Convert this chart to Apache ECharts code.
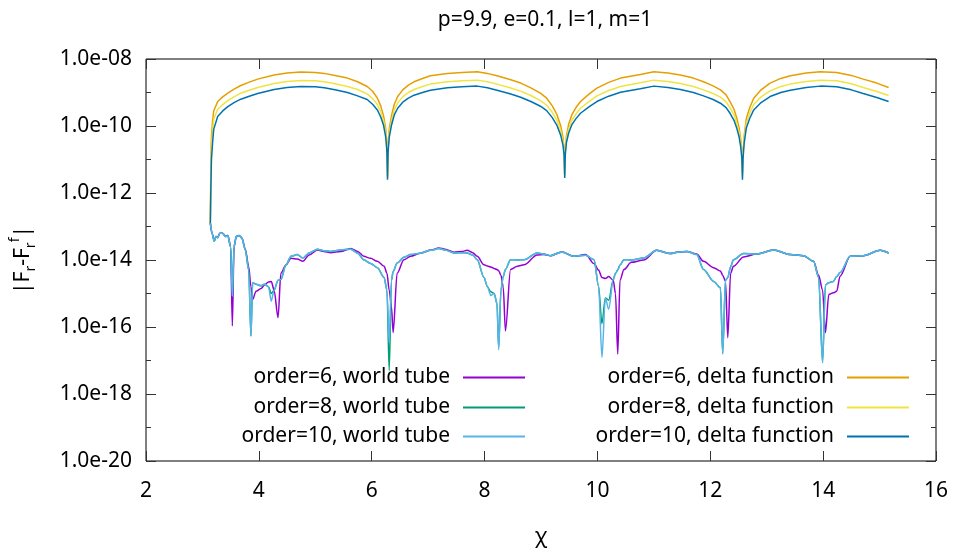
<!DOCTYPE html>
<html><head><meta charset="utf-8">
<script src="https://cdn.jsdelivr.net/npm/echarts@6/dist/echarts.min.js"></script>
<style>html,body{margin:0;padding:0;background:#fff}#c{width:953px;height:553px}</style>
</head><body><div id="c"></div>
<script>
const titleText = 'p=9.9, e=0.1, l=1, m=1';
const xAxisName = 'χ';
const yTickValues = [1e-20, 1e-18, 1e-16, 1e-14, 1e-12, 1e-10, 1e-8];
const yTickLabels = ['1.0e-20', '1.0e-18', '1.0e-16', '1.0e-14', '1.0e-12', '1.0e-10', '1.0e-08'];
const yMinorTickValues = [1e-20, 1e-19, 1e-18, 1e-17, 1e-16, 1e-15, 1e-14, 1e-13, 1e-12, 1e-11, 1e-10, 1e-9, 1e-8];
const seriesNames = ['order=6, world tube', 'order=8, world tube', 'order=10, world tube',
  'order=6, delta function', 'order=8, delta function', 'order=10, delta function'];

// world tube curves (chi, |F_r - F_r^f|)
const wtX = [3.14,3.17,3.21,3.24,3.27,3.31,3.36,3.41,3.45,3.50,
  3.53,3.56,3.60,3.65,3.70,3.76,3.82,3.86,3.89,3.95,
  4.04,4.10,4.17,4.22,4.27,4.34,4.39,4.48,4.57,4.68,
  4.78,4.89,5.04,5.15,5.27,5.45,5.63,5.75,5.86,5.98,
  6.10,6.22,6.27,6.31,6.35,6.38,6.45,6.57,6.69,6.86,
  7.04,7.19,7.30,7.46,7.60,7.69,7.79,7.87,7.99,8.05,
  8.11,8.17,8.22,8.25,8.29,8.33,8.37,8.46,8.58,8.70,
  8.93,9.05,9.17,9.37,9.58,9.79,9.94,10.02,10.08,10.14,
  10.20,10.28,10.32,10.36,10.40,10.47,10.60,10.82,11.05,11.29,
  11.44,11.59,11.76,11.88,12.06,12.18,12.22,12.27,12.31,12.36,
  12.41,12.59,12.82,13.12,13.42,13.65,13.83,13.92,13.99,14.04,
  14.10,14.18,14.24,14.30,14.48,14.71,15.01,15.16];
const wtOrder6 = [1.26e-13,6.3e-14,3.8e-14,5.0e-14,4.8e-14,6.3e-14,6.3e-14,5.2e-14,5.4e-14,2.5e-14,
  1.07e-16,2.5e-14,5.0e-14,5.4e-14,4.5e-14,2.1e-14,6.3e-15,1.6e-15,6.6e-16,1.17e-15,
  1.41e-15,1.8e-15,2.2e-15,2.3e-15,1.26e-15,1.9e-16,4.0e-15,7.1e-15,1.12e-14,1.07e-14,
  9.1e-15,1.41e-14,2.0e-14,1.8e-14,1.66e-14,1.8e-14,2.2e-14,1.8e-14,1.29e-14,1.12e-14,
  9.1e-15,6.5e-15,4.0e-15,1.26e-15,4.0e-16,6.8e-17,4.0e-15,1.02e-14,1.29e-14,1.6e-14,
  1.95e-14,2.3e-14,2.1e-14,1.7e-14,1.8e-14,1.95e-14,1.66e-14,1.29e-14,7.2e-15,6.6e-15,
  6.2e-15,5.6e-15,5.2e-15,4.8e-15,3.5e-15,1.6e-15,7.6e-17,5.2e-15,6.5e-15,7.2e-15,
  1.41e-14,1.45e-14,1.35e-14,1.74e-14,1.29e-14,1.45e-14,7.8e-15,5.0e-15,3.0e-15,2.8e-15,
  3.2e-15,2.5e-15,1.0e-15,1.55e-17,2.5e-15,5.2e-15,8.5e-15,1.0e-14,1.95e-14,1.55e-14,
  1.74e-14,1.8e-14,1.5e-14,9.1e-15,5.9e-15,4.7e-15,3.5e-15,2.3e-15,4.8e-17,4.0e-15,
  6.5e-15,1.23e-14,1.5e-14,2.0e-14,1.45e-14,1.35e-14,9.1e-15,3.5e-15,1.26e-15,6.8e-17,
  9.3e-16,1.05e-15,1.17e-15,3.3e-15,1.29e-14,1.35e-14,1.95e-14,1.62e-14];
const wtOrder8 = [1.26e-13,6.3e-14,3.6e-14,5.0e-14,4.6e-14,6.3e-14,6.2e-14,5.0e-14,5.4e-14,2.5e-14,
  8.3e-16,2.5e-14,5.0e-14,5.4e-14,4.5e-14,2.0e-14,5.0e-15,5.4e-17,2.1e-15,1.9e-15,
  1.7e-15,1.9e-15,1.6e-15,1.0e-15,1.26e-15,2.5e-15,2.6e-15,7.1e-15,1.29e-14,1.45e-14,
  1.15e-14,1.62e-14,2.1e-14,1.9e-14,1.8e-14,2.0e-14,2.1e-14,1.6e-14,1.02e-14,7.9e-15,
  5.9e-15,3.0e-15,1.26e-15,5.0e-18,2.5e-15,4.5e-15,8.1e-15,1.2e-14,1.45e-14,1.6e-14,
  1.95e-14,2.2e-14,2.0e-14,1.62e-14,1.66e-14,1.62e-14,1.41e-14,1.02e-14,3.0e-15,1.6e-15,
  1.12e-15,1.0e-15,5.0e-16,2.5e-17,1.26e-15,3.2e-15,5.2e-15,1.02e-14,1.0e-14,1.02e-14,
  1.62e-14,1.5e-14,1.35e-14,1.74e-14,1.29e-14,1.38e-14,1.02e-14,1.66e-15,1.26e-16,7.4e-16,
  6.3e-16,2.6e-15,4.0e-15,5.0e-15,7.1e-15,1.02e-14,1.0e-14,1.15e-14,1.95e-14,1.55e-14,
  1.74e-14,1.8e-14,1.45e-14,5.2e-15,2.3e-15,1.48e-15,1.6e-17,2.5e-15,3.0e-15,6.3e-15,
  1.02e-14,1.55e-14,1.5e-14,2.0e-14,1.45e-14,1.35e-14,9.1e-15,3.0e-15,8.7e-18,1.8e-15,
  2.1e-15,2.3e-15,3.2e-15,4.2e-15,1.29e-14,1.35e-14,1.95e-14,1.62e-14];
const wtOrder10 = [1.26e-13,6.3e-14,3.6e-14,5.0e-14,4.6e-14,6.3e-14,6.2e-14,5.0e-14,5.4e-14,2.5e-14,
  8.3e-16,2.5e-14,5.0e-14,5.4e-14,4.5e-14,2.0e-14,5.0e-15,5.4e-17,2.1e-15,1.9e-15,
  1.7e-15,1.9e-15,1.6e-15,5.9e-16,1.26e-15,2.5e-15,2.6e-15,7.1e-15,1.29e-14,1.45e-14,
  1.15e-14,1.62e-14,2.1e-14,1.9e-14,1.8e-14,2.0e-14,2.1e-14,1.6e-14,1.02e-14,7.9e-15,
  5.9e-15,3.0e-15,1.26e-15,3.4e-17,2.5e-15,4.5e-15,8.1e-15,1.2e-14,1.45e-14,1.6e-14,
  1.95e-14,2.2e-14,2.0e-14,1.62e-14,1.66e-14,1.62e-14,1.41e-14,1.02e-14,3.0e-15,1.6e-15,
  8.7e-16,1.0e-15,5.0e-16,2.1e-17,1.26e-15,3.2e-15,5.2e-15,1.02e-14,1.0e-14,1.02e-14,
  1.62e-14,1.5e-14,1.35e-14,1.74e-14,1.29e-14,1.38e-14,1.02e-14,1.66e-15,1.23e-17,7.4e-16,
  3.4e-16,2.6e-15,4.0e-15,5.0e-15,7.1e-15,1.02e-14,1.0e-14,1.15e-14,1.95e-14,1.55e-14,
  1.74e-14,1.8e-14,1.45e-14,5.2e-15,2.3e-15,1.48e-15,1.6e-17,2.5e-15,3.0e-15,6.3e-15,
  1.02e-14,1.55e-14,1.5e-14,2.0e-14,1.45e-14,1.35e-14,9.1e-15,3.0e-15,8.7e-18,1.8e-15,
  2.1e-15,2.3e-15,3.2e-15,4.2e-15,1.29e-14,1.35e-14,1.95e-14,1.62e-14];

// delta function curves
const deltaX = [3.14,3.15,3.16,3.18,3.20,3.27,3.36,3.45,3.56,3.68,3.83,3.98,4.27,4.50,4.74,5.00,5.16,5.35,5.57,5.75,5.92,6.02,6.10,6.16,6.21,6.25,6.27,6.28,
  6.29,6.31,6.35,6.40,6.46,6.55,6.65,6.75,6.90,7.04,7.34,7.60,7.87,8.05,8.22,8.45,8.64,8.82,8.99,9.10,9.20,9.28,9.35,9.39,9.41,9.42,
  9.43,9.45,9.49,9.55,9.62,9.70,9.85,9.99,10.20,10.41,10.76,11.00,11.25,11.47,11.70,11.88,12.05,12.18,12.28,12.35,12.42,12.47,12.51,12.54,12.56,12.57,
  12.58,12.60,12.64,12.70,12.77,12.90,13.06,13.25,13.42,13.70,13.95,14.24,14.50,14.71,14.95,15.16];
const deltaOrder6 = [1.26e-13,1.0e-11,5.0e-11,1.41e-10,2.82e-10,5.37e-10,7.41e-10,9.55e-10,1.26e-9,1.62e-9,2.04e-9,2.51e-9,3.31e-9,3.80e-9,4.07e-9,3.98e-9,3.72e-9,3.24e-9,2.69e-9,2.09e-9,1.51e-9,1.07e-9,6.76e-10,3.98e-10,2.0e-10,7.94e-11,2.51e-11,3.16e-12,
  2.51e-11,7.94e-11,2.0e-10,4.47e-10,7.59e-10,1.20e-9,1.66e-9,2.09e-9,2.63e-9,3.16e-9,3.72e-9,3.98e-9,4.17e-9,3.72e-9,3.16e-9,2.45e-9,1.91e-9,1.38e-9,9.55e-10,6.76e-10,3.98e-10,2.24e-10,1.0e-10,4.47e-11,2.0e-11,3.55e-12,
  2.0e-11,5.01e-11,1.12e-10,2.24e-10,3.55e-10,5.37e-10,8.91e-10,1.35e-9,2.0e-9,2.69e-9,3.47e-9,4.17e-9,3.80e-9,3.31e-9,2.69e-9,2.09e-9,1.58e-9,1.20e-9,8.51e-10,5.37e-10,3.16e-10,1.70e-10,8.91e-11,3.98e-11,1.58e-11,3.98e-12,
  1.58e-11,5.01e-11,1.70e-10,3.55e-10,6.76e-10,1.20e-9,1.91e-9,2.63e-9,3.16e-9,3.80e-9,4.17e-9,3.98e-9,3.24e-9,2.51e-9,1.91e-9,1.41e-9];
const deltaOrder8 = [1.26e-13,3.98e-12,2.24e-11,7.08e-11,1.58e-10,3.16e-10,4.37e-10,5.75e-10,7.41e-10,9.55e-10,1.17e-9,1.41e-9,1.86e-9,2.14e-9,2.29e-9,2.24e-9,2.09e-9,1.82e-9,1.51e-9,1.23e-9,9.12e-10,6.46e-10,4.37e-10,2.69e-10,1.41e-10,5.89e-11,2.09e-11,2.82e-12,
  2.09e-11,5.89e-11,1.41e-10,3.02e-10,4.90e-10,7.41e-10,1.0e-9,1.23e-9,1.51e-9,1.78e-9,2.09e-9,2.24e-9,2.34e-9,2.09e-9,1.78e-9,1.38e-9,1.10e-9,8.13e-10,5.75e-10,4.17e-10,2.57e-10,1.51e-10,7.08e-11,3.39e-11,1.66e-11,3.16e-12,
  1.66e-11,3.98e-11,8.13e-11,1.51e-10,2.29e-10,3.39e-10,5.37e-10,7.94e-10,1.15e-9,1.51e-9,1.95e-9,2.34e-9,2.14e-9,1.86e-9,1.51e-9,1.20e-9,9.33e-10,7.24e-10,5.25e-10,3.47e-10,2.14e-10,1.20e-10,6.61e-11,3.16e-11,1.32e-11,3.16e-12,
  1.32e-11,3.98e-11,1.23e-10,2.40e-10,4.37e-10,7.41e-10,1.12e-9,1.51e-9,1.78e-9,2.14e-9,2.34e-9,2.24e-9,1.82e-9,1.41e-9,1.07e-9,8.13e-10];
const deltaOrder10 = [1.26e-13,1.58e-12,1.0e-11,3.16e-11,7.94e-11,1.91e-10,2.82e-10,3.80e-10,5.01e-10,6.31e-10,7.76e-10,9.33e-10,1.23e-9,1.41e-9,1.51e-9,1.48e-9,1.38e-9,1.20e-9,1.0e-9,7.94e-10,6.17e-10,4.37e-10,3.02e-10,1.86e-10,1.05e-10,4.47e-11,1.66e-11,2.51e-12,
  1.66e-11,4.47e-11,1.05e-10,2.14e-10,3.39e-10,5.13e-10,6.76e-10,8.32e-10,1.0e-9,1.17e-9,1.38e-9,1.48e-9,1.55e-9,1.38e-9,1.17e-9,9.12e-10,7.24e-10,5.37e-10,3.89e-10,2.88e-10,1.78e-10,1.07e-10,5.25e-11,2.63e-11,1.32e-11,2.82e-12,
  1.32e-11,3.16e-11,6.17e-11,1.12e-10,1.66e-10,2.40e-10,3.72e-10,5.37e-10,7.76e-10,1.02e-9,1.29e-9,1.55e-9,1.41e-9,1.23e-9,1.0e-9,7.94e-10,6.17e-10,4.79e-10,3.55e-10,2.40e-10,1.48e-10,8.51e-11,4.79e-11,2.34e-11,1.05e-11,2.51e-12,
  1.05e-11,3.02e-11,8.91e-11,1.70e-10,3.02e-10,5.01e-10,7.59e-10,1.0e-9,1.17e-9,1.41e-9,1.55e-9,1.48e-9,1.20e-9,9.33e-10,7.08e-10,5.37e-10];

const colors = ['#9400D3', '#009E73', '#56B4E9', '#E69F00', '#F0E442', '#0072B2'];
const FONT = '"Noto Sans", "Open Sans", sans-serif';
const zip = (xs, ys) => xs.map((x, i) => [x, ys[i]]);
const seriesData = [zip(wtX, wtOrder6), zip(wtX, wtOrder8), zip(wtX, wtOrder10),
  zip(deltaX, deltaOrder6), zip(deltaX, deltaOrder8), zip(deltaX, deltaOrder10)];
const seriesSmooth = [0.3, 0.3, 0.3, 0, 0, 0];

const tickLine = {color: '#333', width: 1};
const yBase = {type: 'log', logBase: 10, min: 1e-20, max: 1e-8,
  splitLine: {show: false}, axisLine: {show: false}};
const xBase = {type: 'value', min: 2, max: 16, interval: 2,
  splitLine: {show: false}, axisLine: {show: false}};

// legend layout: two columns, three rows, text right-aligned to the sample line
const legendRight = [428, 428, 428, 44, 44, 44];
const legendTop = [364, 394, 423, 364, 394, 423];

const chart = echarts.init(document.getElementById('c'), null, {renderer: 'canvas'});
chart.setOption({
  animation: false,
  backgroundColor: '#fff',
  textStyle: {fontFamily: FONT},
  color: colors,
  title: {text: titleText, left: 540, top: 5, textAlign: 'center',
    textStyle: {fontSize: 21, fontWeight: 'normal', color: '#000', fontFamily: FONT}},
  grid: {left: 145, right: 17, top: 59, bottom: 91, show: true, borderColor: '#000', borderWidth: 1},
  legend: seriesNames.map((n, i) => ({
    data: [n], orient: 'vertical', align: 'right', right: legendRight[i], top: legendTop[i],
    padding: 0, icon: 'rect', itemWidth: 62, itemHeight: 2, selectedMode: false,
    textStyle: {fontSize: 21, color: '#000', fontFamily: FONT, lineHeight: 24, padding: [3, 8, 0, 0]}
  })),
  xAxis: [
    Object.assign({}, xBase, {position: 'bottom',
      axisTick: {inside: true, length: 10, lineStyle: tickLine},
      axisLabel: {margin: 20, fontSize: 21, color: '#000', fontFamily: FONT},
      name: xAxisName, nameLocation: 'middle', nameGap: 66,
      nameTextStyle: {fontSize: 21, color: '#000', fontFamily: FONT}}),
    Object.assign({}, xBase, {position: 'top',
      axisTick: {inside: true, length: 10, lineStyle: tickLine},
      axisLabel: {show: false}})
  ],
  yAxis: [
    Object.assign({}, yBase, {position: 'left',
      axisTick: {inside: true, length: 10, customValues: yTickValues, lineStyle: tickLine},
      axisLabel: {customValues: yTickValues, margin: 14, fontSize: 21, color: '#000', fontFamily: FONT,
        formatter: v => yTickLabels[Math.round((Math.log10(v) + 20) / 2)]},
      name: '|F{sub|r}-F{sub|r}{sup|f}|', nameLocation: 'middle', nameRotate: 90, nameGap: 108,
      nameTextStyle: {fontSize: 21, color: '#000', fontFamily: FONT, lineHeight: 30,
        rich: {sub: {fontSize: 14, lineHeight: 14, verticalAlign: 'bottom', fontFamily: FONT, color: '#000'},
               sup: {fontSize: 14, lineHeight: 14, verticalAlign: 'top', fontFamily: FONT, color: '#000'}}}}),
    Object.assign({}, yBase, {position: 'left',
      axisTick: {inside: true, length: 5, customValues: yMinorTickValues, lineStyle: tickLine},
      axisLabel: {show: false}}),
    Object.assign({}, yBase, {position: 'right',
      axisTick: {inside: true, length: 10, customValues: yTickValues, lineStyle: tickLine},
      axisLabel: {show: false}}),
    Object.assign({}, yBase, {position: 'right',
      axisTick: {inside: true, length: 5, customValues: yMinorTickValues, lineStyle: tickLine},
      axisLabel: {show: false}})
  ],
  series: seriesNames.map((n, i) => ({
    name: n, type: 'line', xAxisIndex: 0, yAxisIndex: 0, data: seriesData[i],
    symbol: 'none', smooth: seriesSmooth[i], smoothMonotone: 'x', clip: true,
    lineStyle: {color: colors[i], width: 1.5}, itemStyle: {color: colors[i]}
  }))
});
</script>
</body></html>
